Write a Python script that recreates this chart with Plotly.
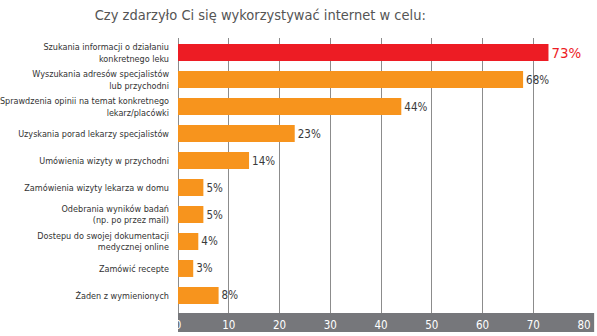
import plotly.graph_objects as go

categories = [
    "Szukania informacji o działaniu<br>konkretnego leku",
    "Wyszukania adresów specjalistów<br>lub przychodni",
    "Sprawdzenia opinii na temat konkretnego<br>lekarz/placówki",
    "Uzyskania porad lekarzy specjalistów",
    "Umówienia wizyty w przychodni",
    "Zamówienia wizyty lekarza w domu",
    "Odebrania wyników badań<br>(np. po przez mail)",
    "Dostepu do swojej dokumentacji<br>medycznej online",
    "Zamówić recepte",
    "Żaden z wymienionych",
]
values = [73, 68, 44, 23, 14, 5, 5, 4, 3, 8]
tick_vals = [0, 10, 20, 30, 40, 50, 60, 70, 80]

RED = "#ed1c24"
ORANGE = "#f7941d"
FONT = "DejaVu Sans Condensed, sans-serif"

colors = [RED] + [ORANGE] * (len(values) - 1)
text_colors = [RED] + ["#3a3a3a"] * (len(values) - 1)
text_sizes = [17.5] + [11.5] * (len(values) - 1)

fig = go.Figure(
    go.Bar(
        x=values,
        y=categories,
        orientation="h",
        marker=dict(color=colors, line=dict(width=0)),
        text=[f"{v}%" for v in values],
        textposition="outside",
        textfont=dict(family=FONT, size=text_sizes, color=text_colors),
        cliponaxis=False,
        hoverinfo="skip",
    )
)

fig.update_layout(
    width=597,
    height=336,
    margin=dict(l=178, r=13, t=38, b=23),
    paper_bgcolor="white",
    plot_bgcolor="white",
    bargap=0.37,
    showlegend=False,
    title=dict(
        text="Czy zdarzyło Ci się wykorzystywać internet w celu:",
        font=dict(family=FONT, size=14.5, color="#555555"),
        x=0.436,
        xanchor="center",
        xref="container",
        y=0.955,
        yanchor="middle",
        yref="container",
    ),
    xaxis=dict(
        range=[0, 80],
        tickvals=tick_vals,
        ticktext=[str(t) for t in tick_vals],
        showgrid=True,
        gridcolor="#8c8c8c",
        gridwidth=1,
        zeroline=True,
        zerolinecolor="#8c8c8c",
        zerolinewidth=1,
        showline=False,
        ticks="",
        tickfont=dict(family=FONT, size=11.5, color="white"),
        ticklabelstandoff=3,
        automargin=False,
        fixedrange=True,
    ),
    yaxis=dict(
        type="category",
        categoryorder="array",
        categoryarray=categories,
        range=[9.65, -0.54],
        showgrid=False,
        zeroline=False,
        showline=False,
        ticks="",
        tickfont=dict(family=FONT, size=9, color="#333333"),
        ticklabelstandoff=8,
        automargin=False,
        fixedrange=True,
    ),
    shapes=[
        dict(
            type="rect",
            xref="paper",
            yref="paper",
            x0=0,
            x1=1.025,
            y0=0,
            y1=-0.0691,
            fillcolor="#76777b",
            line=dict(width=0),
            layer="below",
        )
    ],
)

fig.write_html("out.html")
